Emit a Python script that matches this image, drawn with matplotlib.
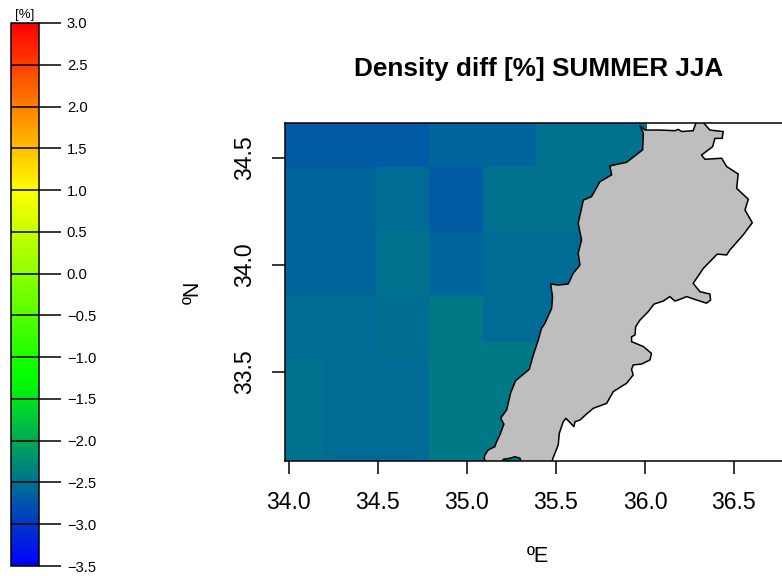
"""Density difference map over Lebanon, summer, with a separate colour bar."""

import matplotlib
matplotlib.use("Agg")
import matplotlib.pyplot as plt
import numpy as np
from matplotlib.cm import ScalarMappable
from matplotlib.colors import LinearSegmentedColormap, Normalize

plt.rcParams["font.family"] = ["Liberation Sans", "DejaVu Sans"]

W, H = 782, 576

LON_EDGES = [33.978, 34.185, 34.489, 34.787, 35.090, 35.388, 35.690, 36.011]
LAT_EDGES = [33.081, 33.559, 33.638, 33.858, 34.158, 34.458, 34.664]

# rows run south to north, nan is land or outside the model grid
NAN = float("nan")
DENSITY_DIFF = [
    [-2.49, -2.56, -2.56, -2.42, -2.42, NAN, NAN],
    [-2.55, -2.55, -2.52, -2.42, -2.42, -2.42, NAN],
    [-2.55, -2.55, -2.52, -2.42, -2.56, -2.56, NAN],
    [-2.61, -2.61, -2.50, -2.61, -2.56, -2.56, -2.56],
    [-2.61, -2.61, -2.55, -2.71, -2.50, -2.50, -2.50],
    [-2.71, -2.71, -2.71, -2.61, -2.61, -2.50, -2.50],
]

COAST_LON = [
    35.972, 36.000, 36.084, 36.168, 36.187, 36.206, 36.271, 36.286, 36.286, 36.331,
    36.331, 36.365, 36.440, 36.434, 36.393, 36.380, 36.318, 36.337, 36.431, 36.459,
    36.524, 36.515, 36.581, 36.562, 36.603, 36.552, 36.477, 36.459, 36.406, 36.328,
    36.271, 36.309, 36.365, 36.369, 36.346, 36.290, 36.234, 36.197, 36.168, 36.140,
    36.103, 36.051, 36.019, 35.972, 35.948, 35.944, 35.925, 35.925, 35.991, 36.037,
    36.028, 35.981, 35.934, 35.925, 35.934, 35.897, 35.822, 35.785, 35.710, 35.672,
    35.635, 35.607, 35.601, 35.556, 35.541, 35.519, 35.513, 35.481, 35.481, 35.307,
    35.298, 35.270, 35.242, 35.204, 35.193, 35.110, 35.097, 35.101, 35.120, 35.157,
    35.167, 35.185, 35.208, 35.189, 35.223, 35.245, 35.273, 35.350, 35.373, 35.401,
    35.419, 35.438, 35.476, 35.481, 35.470, 35.513, 35.569, 35.597, 35.635, 35.625,
    35.644, 35.625, 35.654, 35.700, 35.747, 35.813, 35.803, 35.897, 35.987, 35.991,
]
COAST_LAT = [
    34.650, 34.631, 34.631, 34.628, 34.634, 34.624, 34.628, 34.663, 34.680, 34.680,
    34.663, 34.631, 34.624, 34.592, 34.592, 34.553, 34.514, 34.494, 34.499, 34.460,
    34.425, 34.358, 34.307, 34.257, 34.197, 34.140, 34.069, 34.046, 34.050, 33.983,
    33.913, 33.874, 33.863, 33.835, 33.820, 33.835, 33.851, 33.838, 33.830, 33.851,
    33.830, 33.816, 33.781, 33.741, 33.710, 33.671, 33.663, 33.640, 33.617, 33.585,
    33.554, 33.535, 33.531, 33.510, 33.484, 33.445, 33.406, 33.351, 33.328, 33.301,
    33.273, 33.265, 33.242, 33.281, 33.265, 33.211, 33.156, 33.089, 33.070, 33.070,
    33.094, 33.101, 33.094, 33.089, 33.070, 33.070, 33.094, 33.109, 33.133, 33.148,
    33.172, 33.203, 33.254, 33.281, 33.320, 33.398, 33.457, 33.510, 33.578, 33.648,
    33.702, 33.726, 33.796, 33.851, 33.910, 33.905, 33.910, 33.960, 33.999, 34.054,
    34.116, 34.194, 34.303, 34.319, 34.389, 34.421, 34.463, 34.480, 34.538, 34.616,
]

X_TICKS = [34.0, 34.5, 35.0, 35.5, 36.0, 36.5]
Y_TICKS = [33.5, 34.0, 34.5]
BAR_TICKS = [-3.5, -3.0, -2.5, -2.0, -1.5, -1.0, -0.5, 0.0, 0.5, 1.0, 1.5, 2.0, 2.5, 3.0]

VMIN, VMAX = -3.5, 3.0
CMAP = LinearSegmentedColormap.from_list(
    "bgyr",
    [(0.0, "#0000ff"), (2.25 / 6.5, "#00ff00"), (4.5 / 6.5, "#ffff00"), (1.0, "#ff0000")],
    N=256,
)


def px_axes(fig, left, top, right, bottom):
    return fig.add_axes([left / W, 1 - bottom / H, (right - left) / W, (bottom - top) / H])


def main():
    fig = plt.figure(figsize=(W / 100, H / 100), dpi=100)
    norm = Normalize(VMIN, VMAX)

    ax = px_axes(fig, 285, 123, 782, 461)
    values = np.ma.masked_invalid(np.array(DENSITY_DIFF))
    ax.pcolormesh(LON_EDGES, LAT_EDGES, values, cmap=CMAP, norm=norm, zorder=1)
    ax.fill(COAST_LON, COAST_LAT, facecolor="#bebebe", edgecolor="black", linewidth=1.1,
            joinstyle="round", zorder=2)
    ax.set_xlim(33.978, 36.770)
    ax.set_ylim(33.081, 34.664)
    ax.set_xticks(X_TICKS)
    ax.set_yticks(Y_TICKS)
    ax.set_xticklabels([f"{v:.1f}" for v in X_TICKS])
    ax.set_yticklabels([f"{v:.1f}" for v in Y_TICKS], rotation=90, va="center")
    ax.tick_params(length=9.5, width=1.1, labelsize=16.6)
    ax.tick_params(axis="x", pad=12)
    ax.tick_params(axis="y", pad=11.5)
    ax.spines["right"].set_visible(False)
    for side in ("left", "top", "bottom"):
        ax.spines[side].set_linewidth(1.1)
        ax.spines[side].set_zorder(5)

    fig.text(538.5 / W, 1 - 69 / H, "Density diff [%] SUMMER JJA", ha="center", va="center",
             fontsize=18.8, fontweight="bold")
    fig.text(538 / W, 1 - 556 / H, "ºE", ha="center", va="center", fontsize=15.5)
    fig.text(193 / W, 1 - 292 / H, "ºN", ha="center", va="center", fontsize=15.5, rotation=90)

    cax = px_axes(fig, 11, 23, 39, 566)
    bar = fig.colorbar(ScalarMappable(norm=norm, cmap=CMAP), cax=cax)
    bar.set_ticks(BAR_TICKS)
    bar.set_ticklabels([f"{v:.1f}".replace("-", "\u2212") for v in BAR_TICKS])
    bar.outline.set_linewidth(1.1)
    cax.tick_params(length=16, width=1.1, labelsize=10.6, pad=4)
    cax.hlines(BAR_TICKS, 0, 1, colors="black", linewidth=1.1, transform=cax.get_yaxis_transform())
    fig.text(25 / W, 1 - 15 / H, "[%]", ha="center", va="center", fontsize=9.5)

    fig.savefig("out.png", dpi=100)
    plt.close(fig)


if __name__ == "__main__":
    main()
